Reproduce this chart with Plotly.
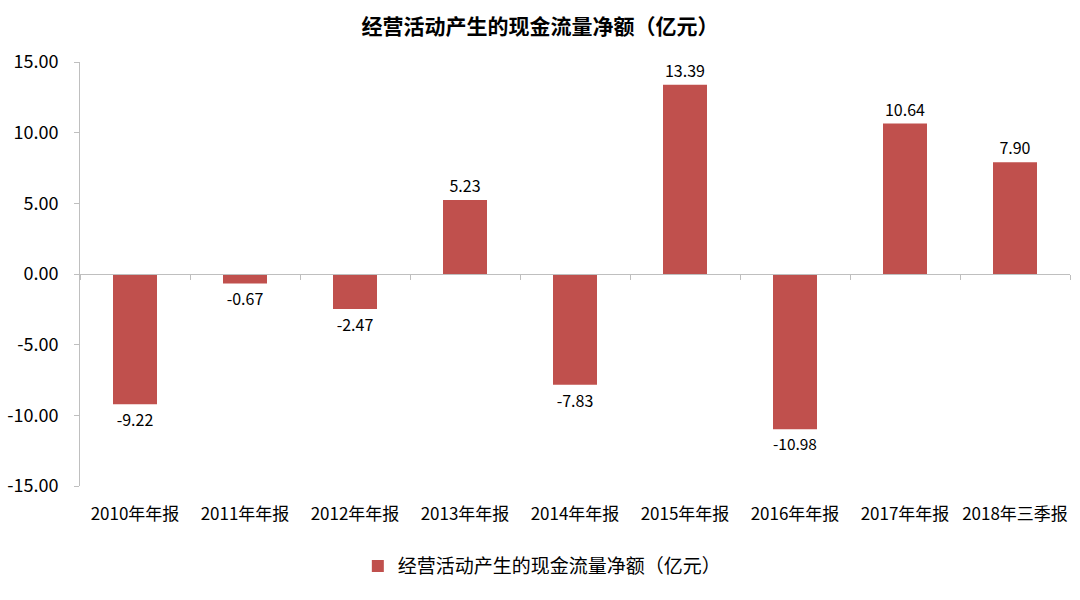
import plotly.graph_objects as go

categories = ["2010年年报", "2011年年报", "2012年年报", "2013年年报", "2014年年报",
              "2015年年报", "2016年年报", "2017年年报", "2018年三季报"]
values = [-9.22, -0.67, -2.47, 5.23, -7.83, 13.39, -10.98, 10.64, 7.90]
series_name = "经营活动产生的现金流量净额（亿元）"
y_ticks = [-15, -10, -5, 0, 5, 10, 15]

FONT = "Noto Sans CJK SC, Microsoft YaHei, sans-serif"
RED = "#C0504D"

fig = go.Figure()
fig.add_trace(go.Bar(
    x=categories, y=values, name=series_name,
    marker=dict(color=RED, line=dict(width=0)),
    text=[f"{v:.2f}" for v in values], textposition="outside",
    textfont=dict(size=16, color="#000000", family=FONT),
    cliponaxis=False,
))

fig.update_layout(
    width=1080, height=600,
    paper_bgcolor="white", plot_bgcolor="white",
    margin=dict(l=80, r=10, t=62, b=114),
    bargap=0.6,
    title=dict(text="<b>" + series_name + "</b>", x=0.5, xanchor="center",
               y=0.955, yanchor="middle",
               font=dict(size=21, color="#000000", family=FONT)),
    showlegend=True,
    legend=dict(orientation="h", x=0.467, xanchor="center", y=-0.189, yanchor="middle",
                font=dict(size=19, color="#000000", family=FONT)),
    font=dict(family=FONT, color="#000000"),
    xaxis=dict(type="category", showline=False, ticks="", showgrid=False, automargin=False,
               tickfont=dict(size=17, color="#000000"), ticklabelstandoff=16),
    xaxis2=dict(type="category", matches="x", overlaying="x", anchor="free", position=0.5,
                showline=True, linecolor="#BFBFBF", linewidth=1,
                ticks="outside", tickson="boundaries", ticklen=5, tickcolor="#BFBFBF",
                showticklabels=False, showgrid=False, automargin=False),
    yaxis=dict(range=[-15, 15], tickvals=y_ticks,
               ticktext=[f"{v:.2f}" for v in y_ticks],
               showline=True, linecolor="#BFBFBF", linewidth=1,
               ticks="outside", ticklen=5, tickcolor="#BFBFBF",
               showgrid=False, zeroline=False, automargin=False,
               ticklabelstandoff=12,
               tickfont=dict(size=18, color="#000000")),
)
fig.add_trace(go.Scatter(x=categories, y=[None] * len(categories), xaxis="x2", yaxis="y",
                         showlegend=False, hoverinfo="skip", mode="markers"))

fig.write_html("out.html", config={"displayModeBar": False},
               post_script="document.body.style.margin='0px';")
